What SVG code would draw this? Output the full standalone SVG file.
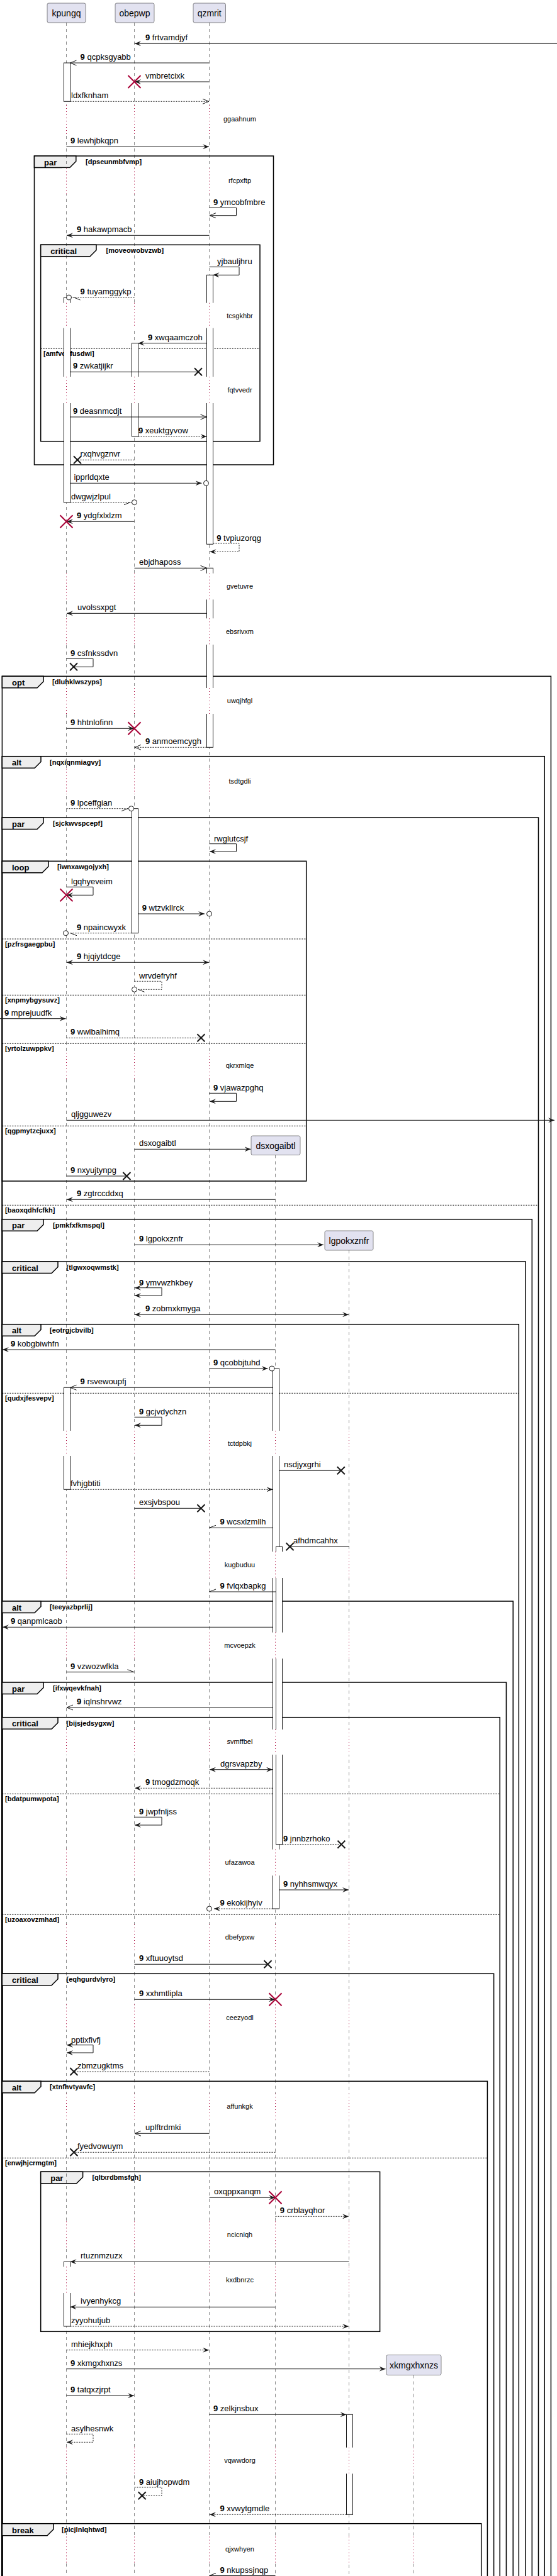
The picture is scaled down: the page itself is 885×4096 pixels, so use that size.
<svg xmlns="http://www.w3.org/2000/svg" xmlns:xlink="http://www.w3.org/1999/xlink" width="885" height="4096" viewBox="0 0 885 4096">
<defs>
<style>
.pb{fill:#E2E2F0;stroke:#181818;stroke-width:0.5}
.pn{font-family:'Liberation Sans',Arial,sans-serif;font-size:14px;fill:#000;text-anchor:middle}
.ll{stroke:#181818;stroke-width:0.5;stroke-dasharray:5,5;fill:none}
.dl{stroke:#A80036;stroke-width:1;stroke-dasharray:1,4;fill:none}
.cv{fill:#fff;stroke:none}
.act{fill:#fff;stroke:#181818;stroke-width:1}
.fr{fill:none;stroke:#000;stroke-width:1.5}
.tab{fill:#EEEEEE;stroke:#000;stroke-width:1.5}
.sep{stroke:#000;stroke-width:1;stroke-dasharray:2,2;fill:none}
.gt{font-family:'Liberation Sans',Arial,sans-serif;font-size:13px;font-weight:bold;fill:#000}
.gc{font-family:'Liberation Sans',Arial,sans-serif;font-size:11px;font-weight:bold;fill:#000}
.dt{font-family:'Liberation Sans',Arial,sans-serif;font-size:11px;fill:#000;text-anchor:middle}
.ml{font-family:'Liberation Sans',Arial,sans-serif;font-size:13px;fill:#000}
.b{font-weight:bold}
.s{stroke:#181818;stroke-width:1;fill:none}
.d{stroke:#181818;stroke-width:1;fill:none;stroke-dasharray:2,2}
.h{stroke:#181818;stroke-width:1;fill:none}
.ci{fill:#fff;stroke:#181818;stroke-width:1}
.xk{stroke:#181818;stroke-width:2;fill:none}
.xr{stroke:#A80036;stroke-width:2;fill:none}
</style>
<marker id="af" viewBox="0 0 10 8" refX="10" refY="4" markerWidth="10" markerHeight="8" markerUnits="userSpaceOnUse" orient="auto-start-reverse"><path d="M0,0L10,4L0,8L4,4Z" fill="#181818"/></marker>
<marker id="ao" viewBox="-1 -1 12 10" refX="10" refY="4" markerWidth="12" markerHeight="10" markerUnits="userSpaceOnUse" orient="auto-start-reverse"><path d="M0,0L10,4L0,8" fill="none" stroke="#181818" stroke-width="1"/></marker>
<path id="xb" class="xk" d="M-6,-6L6,6M6,-6L-6,6"/>
<path id="xd" class="xr" d="M-10,-10L10,10M10,-10L-10,10"/>
</defs>
<rect width="885" height="4096" fill="#fff"/>

<g id="frames">
<g id="f1"><rect class="fr" x="54.5" y="248" width="380" height="491"/><polygon class="tab" points="54.5,248 120.8,248 120.8,256.5 110.8,266.5 54.5,266.5"/><text class="gt" x="70" y="262.5">par</text><text class="gc" x="136" y="261">[dpseunmbfvmp]</text></g>
<g id="f2"><rect class="fr" x="64.7" y="389.3" width="348.3" height="312.4"/><polygon class="tab" points="64.7,389.3 153,389.3 153,397.8 143,407.8 64.7,407.8"/><text class="gt" x="80.2" y="403.8">critical</text><text class="gc" x="168.5" y="402.3">[moveowobvzwb]</text><line class="sep" x1="64.7" y1="554.3" x2="413" y2="554.3"/><text class="gc" x="69" y="565.8">[amfvcbfusdwi]</text></g>
<g id="f3"><rect class="fr" x="3.4" y="1075.3" width="872" height="3200"/><polygon class="tab" points="3.4,1075.3 69,1075.3 69,1083.8 59,1093.8 3.4,1093.8"/><text class="gt" x="19" y="1089.8">opt</text><text class="gc" x="83" y="1088.3">[dluhklwszyps]</text></g>
<g id="f4"><rect class="fr" x="3.4" y="1202.7" width="861.8" height="3100"/><polygon class="tab" points="3.4,1202.7 65,1202.7 65,1211.2 55,1221.2 3.4,1221.2"/><text class="gt" x="19" y="1217.2">alt</text><text class="gc" x="79" y="1215.7">[nqxiqnmiagvy]</text></g>
<g id="f5"><rect class="fr" x="3.4" y="1300" width="852.1" height="3000"/><polygon class="tab" points="3.4,1300 69,1300 69,1308.5 59,1318.5 3.4,1318.5"/><text class="gt" x="19" y="1314.5">par</text><text class="gc" x="84" y="1313">[sjckwvspcepf]</text><line class="sep" x1="3.4" y1="1916.3" x2="855.5" y2="1916.3"/><text class="gc" x="8" y="1927.8">[baoxqdhfcfkh]</text></g>
<g id="f6"><rect class="fr" x="3.4" y="1369.3" width="483.3" height="508.7"/><polygon class="tab" points="3.4,1369.3 77,1369.3 77,1377.8 67,1387.8 3.4,1387.8"/><text class="gt" x="19" y="1383.8">loop</text><text class="gc" x="91" y="1382.3">[iwnxawgojyxh]</text>
<line class="sep" x1="3.4" y1="1493" x2="486.7" y2="1493"/><text class="gc" x="8" y="1504.5">[pzfrsgaegpbu]</text>
<line class="sep" x1="3.4" y1="1582.3" x2="486.7" y2="1582.3"/><text class="gc" x="8" y="1593.8">[xnpmybgysuvz]</text>
<line class="sep" x1="3.4" y1="1659.3" x2="486.7" y2="1659.3"/><text class="gc" x="8" y="1670.8">[yrtolzuwppkv]</text>
<line class="sep" x1="3.4" y1="1790.3" x2="486.7" y2="1790.3"/><text class="gc" x="8" y="1801.8">[qgpmytzcjuxx]</text></g>
<g id="f7"><rect class="fr" x="3.4" y="1938.7" width="841.9" height="2300"/><polygon class="tab" points="3.4,1938.7 69,1938.7 69,1947.2 59,1957.2 3.4,1957.2"/><text class="gt" x="19" y="1953.2">par</text><text class="gc" x="84" y="1951.7">[pmkfxfkmspql]</text></g>
<g id="f8"><rect class="fr" x="3.4" y="2006" width="831.7" height="2200"/><polygon class="tab" points="3.4,2006 92,2006 92,2014.5 82,2024.5 3.4,2024.5"/><text class="gt" x="19" y="2020.5">critical</text><text class="gc" x="105.5" y="2019">[tlgwxoqwmstk]</text></g>
<g id="f9"><rect class="fr" x="3.4" y="2105.7" width="820.9" height="2100"/><polygon class="tab" points="3.4,2105.7 65,2105.7 65,2114.2 55,2124.2 3.4,2124.2"/><text class="gt" x="19" y="2120.2">alt</text><text class="gc" x="79" y="2118.7">[eotrgjcbvilb]</text><line class="sep" x1="3.4" y1="2215.3" x2="824.3" y2="2215.3"/><text class="gc" x="8" y="2226.8">[qudxjfesvepv]</text></g>
<g id="f10"><rect class="fr" x="3.4" y="2546" width="811.8" height="1700"/><polygon class="tab" points="3.4,2546 65,2546 65,2554.5 55,2564.5 3.4,2564.5"/><text class="gt" x="19" y="2560.5">alt</text><text class="gc" x="79" y="2559">[teeyazbprlij]</text></g>
<g id="f11"><rect class="fr" x="3.4" y="2675" width="801" height="1600"/><polygon class="tab" points="3.4,2675 69,2675 69,2683.5 59,2693.5 3.4,2693.5"/><text class="gt" x="19" y="2689.5">par</text><text class="gc" x="84" y="2688">[ifxwqevkfnah]</text></g>
<g id="f12"><rect class="fr" x="3.4" y="2730.7" width="790.8" height="1500"/><polygon class="tab" points="3.4,2730.7 92,2730.7 92,2739.2 82,2749.2 3.4,2749.2"/><text class="gt" x="19" y="2745.2">critical</text><text class="gc" x="105.5" y="2743.7">[bijsjedsygxw]</text>
<line class="sep" x1="3.4" y1="2852.3" x2="794.2" y2="2852.3"/><text class="gc" x="8" y="2863.8">[bdatpumwpota]</text>
<line class="sep" x1="3.4" y1="3044.3" x2="794.2" y2="3044.3"/><text class="gc" x="8" y="3055.8">[uzoaxovzmhad]</text></g>
<g id="f13"><rect class="fr" x="3.4" y="3138.3" width="781.2" height="1100"/><polygon class="tab" points="3.4,3138.3 92,3138.3 92,3146.8 82,3156.8 3.4,3156.8"/><text class="gt" x="19" y="3152.8">critical</text><text class="gc" x="105.5" y="3151.3">[eqhgurdvlyro]</text></g>
<g id="f14"><rect class="fr" x="3.4" y="3309.3" width="771" height="900"/><polygon class="tab" points="3.4,3309.3 65,3309.3 65,3317.8 55,3327.8 3.4,3327.8"/><text class="gt" x="19" y="3323.8">alt</text><text class="gc" x="79" y="3322.3">[xtnfhvtyavfc]</text><line class="sep" x1="3.4" y1="3431.3" x2="774.4" y2="3431.3"/><text class="gc" x="8" y="3442.8">[enwjhjcrmgtm]</text></g>
<g id="f15"><rect class="fr" x="64.7" y="3453.3" width="538.9" height="254"/><polygon class="tab" points="64.7,3453.3 131.6,3453.3 131.6,3461.8 121.6,3471.8 64.7,3471.8"/><text class="gt" x="80.2" y="3467.8">par</text><text class="gc" x="146.4" y="3466.3">[qltxrdbmsfgh]</text></g>
<g id="f16"><rect class="fr" x="3.4" y="4012.7" width="761.3" height="300"/><polygon class="tab" points="3.4,4012.7 85,4012.7 85,4021.7 75,4031.7 3.4,4031.7"/><text class="gt" x="19" y="4027.7">break</text><text class="gc" x="98" y="4026.2">[picjlnlqhtwd]</text></g>
</g>

<g id="lifelines">
<line class="ll" x1="105.5" y1="36" x2="105.5" y2="4096"/>
<line class="ll" x1="213.5" y1="36" x2="213.5" y2="4096"/>
<line class="ll" x1="332.5" y1="36" x2="332.5" y2="4096"/>
<line class="ll" x1="437.5" y1="1836.5" x2="437.5" y2="4096"/>
<line class="ll" x1="554.5" y1="1988" x2="554.5" y2="4096"/>
<line class="ll" x1="657.5" y1="3776.5" x2="657.5" y2="4096"/>
</g>

<g id="activations">
<rect class="act" x="101.5" y="100" width="10" height="61.3"/>
<rect class="act" x="101.5" y="473" width="10" height="326"/>
<rect class="act" x="101.5" y="2206.3" width="10" height="162"/>
<rect class="act" x="101.5" y="3596.3" width="10" height="102.7"/>
<rect class="act" x="209.5" y="545.7" width="10" height="148.3"/>
<rect class="act" x="209.5" y="1285.7" width="10" height="198"/>
<rect class="act" x="328.5" y="437.3" width="10" height="428"/>
<rect class="act" x="328.5" y="903.3" width="10" height="285"/>
<rect class="act" x="433.5" y="2176" width="10" height="859"/>
<rect class="act" x="438.5" y="2459.3" width="10" height="473.4"/>
<rect class="act" x="550.5" y="3839.3" width="10" height="159"/>
</g>

<g id="delays">
<g><rect class="cv" x="98.5" y="167" width="20" height="46"/><rect class="cv" x="206.5" y="167" width="20" height="46"/><rect class="cv" x="325.5" y="167" width="20" height="46"/><path class="dl" d="M105.5,167V213M213.5,167V213M332.5,167V213"/><text class="dt" x="381" y="193.2">ggaahnum</text></g>
<g><rect class="cv" x="98.5" y="267.5" width="20" height="41.5"/><rect class="cv" x="206.5" y="267.5" width="20" height="41.5"/><rect class="cv" x="325.5" y="267.5" width="20" height="41.5"/><path class="dl" d="M105.5,267.5V309M213.5,267.5V309M332.5,267.5V309"/><text class="dt" x="381" y="290.5">rfcpxftp</text></g>
<g><rect class="cv" x="98.5" y="481.7" width="20" height="40"/><rect class="cv" x="206.5" y="481.7" width="20" height="40"/><rect class="cv" x="325.5" y="481.7" width="20" height="40"/><path class="dl" d="M105.5,481.7V521.7M213.5,481.7V521.7M332.5,481.7V521.7"/><text class="dt" x="381" y="505.8">tcsgkhbr</text></g>
<g><rect class="cv" x="98.5" y="599" width="20" height="42"/><rect class="cv" x="206.5" y="599" width="20" height="42"/><rect class="cv" x="325.5" y="599" width="20" height="42"/><path class="dl" d="M105.5,599V641M213.5,599V641M332.5,599V641"/><text class="dt" x="381" y="623.5">fqtvvedr</text></g>
<g><rect class="cv" x="98.5" y="911.7" width="20" height="41.6"/><rect class="cv" x="206.5" y="911.7" width="20" height="41.6"/><rect class="cv" x="325.5" y="911.7" width="20" height="41.6"/><path class="dl" d="M105.5,911.7V953.3M213.5,911.7V953.3M332.5,911.7V953.3"/><text class="dt" x="381" y="935.8">gvetuvre</text></g>
<g><rect class="cv" x="98.5" y="983.3" width="20" height="41.7"/><rect class="cv" x="206.5" y="983.3" width="20" height="41.7"/><rect class="cv" x="325.5" y="983.3" width="20" height="41.7"/><path class="dl" d="M105.5,983.3V1025M213.5,983.3V1025M332.5,983.3V1025"/><text class="dt" x="381" y="1007.5">ebsrivxm</text></g>
<g><rect class="cv" x="98.5" y="1094" width="20" height="41"/><rect class="cv" x="206.5" y="1094" width="20" height="41"/><rect class="cv" x="325.5" y="1094" width="20" height="41"/><path class="dl" d="M105.5,1094V1135M213.5,1094V1135M332.5,1094V1135"/><text class="dt" x="381" y="1118.2">uwqjhfgl</text></g>
<g><rect class="cv" x="98.5" y="1222.5" width="20" height="40.5"/><rect class="cv" x="206.5" y="1222.5" width="20" height="40.5"/><rect class="cv" x="325.5" y="1222.5" width="20" height="40.5"/><path class="dl" d="M105.5,1222.5V1263M213.5,1222.5V1263M332.5,1222.5V1263"/><text class="dt" x="381" y="1245.8">tsdtgdli</text></g>
<g><rect class="cv" x="98.5" y="1674" width="20" height="42"/><rect class="cv" x="206.5" y="1674" width="20" height="42"/><rect class="cv" x="325.5" y="1674" width="20" height="42"/><path class="dl" d="M105.5,1674V1716M213.5,1674V1716M332.5,1674V1716"/><text class="dt" x="381" y="1697.8">qkrxmlqe</text></g>
<g><rect class="cv" x="98.5" y="2275" width="20" height="40"/><rect class="cv" x="206.5" y="2275" width="20" height="40"/><rect class="cv" x="325.5" y="2275" width="20" height="40"/><rect class="cv" x="430.5" y="2275" width="20" height="40"/><rect class="cv" x="547.5" y="2275" width="20" height="40"/><path class="dl" d="M105.5,2275V2315M213.5,2275V2315M332.5,2275V2315M437.5,2275V2315M554.5,2275V2315"/><text class="dt" x="381" y="2299.2">tctdpbkj</text></g>
<g><rect class="cv" x="98.5" y="2467.3" width="20" height="41.7"/><rect class="cv" x="206.5" y="2467.3" width="20" height="41.7"/><rect class="cv" x="325.5" y="2467.3" width="20" height="41.7"/><rect class="cv" x="430.5" y="2467.3" width="20" height="41.7"/><rect class="cv" x="547.5" y="2467.3" width="20" height="41.7"/><path class="dl" d="M105.5,2467.3V2509M213.5,2467.3V2509M332.5,2467.3V2509M437.5,2467.3V2509M554.5,2467.3V2509"/><text class="dt" x="381" y="2491.8">kugbuduu</text></g>
<g><rect class="cv" x="98.5" y="2595.7" width="20" height="41.6"/><rect class="cv" x="206.5" y="2595.7" width="20" height="41.6"/><rect class="cv" x="325.5" y="2595.7" width="20" height="41.6"/><rect class="cv" x="430.5" y="2595.7" width="20" height="41.6"/><rect class="cv" x="547.5" y="2595.7" width="20" height="41.6"/><path class="dl" d="M105.5,2595.7V2637.3M213.5,2595.7V2637.3M332.5,2595.7V2637.3M437.5,2595.7V2637.3M554.5,2595.7V2637.3"/><text class="dt" x="381" y="2620.2">mcvoepzk</text></g>
<g><rect class="cv" x="98.5" y="2750" width="20" height="40"/><rect class="cv" x="206.5" y="2750" width="20" height="40"/><rect class="cv" x="325.5" y="2750" width="20" height="40"/><rect class="cv" x="430.5" y="2750" width="20" height="40"/><rect class="cv" x="547.5" y="2750" width="20" height="40"/><path class="dl" d="M105.5,2750V2790M213.5,2750V2790M332.5,2750V2790M437.5,2750V2790M554.5,2750V2790"/><text class="dt" x="381" y="2773.2">svmffbel</text></g>
<g><rect class="cv" x="98.5" y="2940.7" width="20" height="41.6"/><rect class="cv" x="206.5" y="2940.7" width="20" height="41.6"/><rect class="cv" x="325.5" y="2940.7" width="20" height="41.6"/><rect class="cv" x="430.5" y="2940.7" width="20" height="41.6"/><rect class="cv" x="547.5" y="2940.7" width="20" height="41.6"/><path class="dl" d="M105.5,2940.7V2982.3M213.5,2940.7V2982.3M332.5,2940.7V2982.3M437.5,2940.7V2982.3M554.5,2940.7V2982.3"/><text class="dt" x="381" y="2965.2">ufazawoa</text></g>
<g><rect class="cv" x="98.5" y="3060" width="20" height="42"/><rect class="cv" x="206.5" y="3060" width="20" height="42"/><rect class="cv" x="325.5" y="3060" width="20" height="42"/><rect class="cv" x="430.5" y="3060" width="20" height="42"/><rect class="cv" x="547.5" y="3060" width="20" height="42"/><path class="dl" d="M105.5,3060V3102M213.5,3060V3102M332.5,3060V3102M437.5,3060V3102M554.5,3060V3102"/><text class="dt" x="381" y="3084.2">dbefypxw</text></g>
<g><rect class="cv" x="98.5" y="3187.3" width="20" height="40"/><rect class="cv" x="206.5" y="3187.3" width="20" height="40"/><rect class="cv" x="325.5" y="3187.3" width="20" height="40"/><rect class="cv" x="430.5" y="3187.3" width="20" height="40"/><rect class="cv" x="547.5" y="3187.3" width="20" height="40"/><path class="dl" d="M105.5,3187.3V3227.3M213.5,3187.3V3227.3M332.5,3187.3V3227.3M437.5,3187.3V3227.3M554.5,3187.3V3227.3"/><text class="dt" x="381" y="3211.8">ceezyodl</text></g>
<g><rect class="cv" x="98.5" y="3329" width="20" height="42.7"/><rect class="cv" x="206.5" y="3329" width="20" height="42.7"/><rect class="cv" x="325.5" y="3329" width="20" height="42.7"/><rect class="cv" x="430.5" y="3329" width="20" height="42.7"/><rect class="cv" x="547.5" y="3329" width="20" height="42.7"/><path class="dl" d="M105.5,3329V3371.7M213.5,3329V3371.7M332.5,3329V3371.7M437.5,3329V3371.7M554.5,3329V3371.7"/><text class="dt" x="381" y="3352.8">affunkgk</text></g>
<g><rect class="cv" x="98.5" y="3532.3" width="20" height="43.7"/><rect class="cv" x="206.5" y="3532.3" width="20" height="43.7"/><rect class="cv" x="325.5" y="3532.3" width="20" height="43.7"/><rect class="cv" x="430.5" y="3532.3" width="20" height="43.7"/><rect class="cv" x="547.5" y="3532.3" width="20" height="43.7"/><path class="dl" d="M105.5,3532.3V3576M213.5,3532.3V3576M332.5,3532.3V3576M437.5,3532.3V3576M554.5,3532.3V3576"/><text class="dt" x="381" y="3556.8">ncicniqh</text></g>
<g><rect class="cv" x="98.5" y="3604.3" width="20" height="41.7"/><rect class="cv" x="206.5" y="3604.3" width="20" height="41.7"/><rect class="cv" x="325.5" y="3604.3" width="20" height="41.7"/><rect class="cv" x="430.5" y="3604.3" width="20" height="41.7"/><rect class="cv" x="547.5" y="3604.3" width="20" height="41.7"/><path class="dl" d="M105.5,3604.3V3646M213.5,3604.3V3646M332.5,3604.3V3646M437.5,3604.3V3646M554.5,3604.3V3646"/><text class="dt" x="381" y="3628.5">kxdbnrzc</text></g>
<g><rect class="cv" x="98.5" y="3891.7" width="20" height="41.6"/><rect class="cv" x="206.5" y="3891.7" width="20" height="41.6"/><rect class="cv" x="325.5" y="3891.7" width="20" height="41.6"/><rect class="cv" x="430.5" y="3891.7" width="20" height="41.6"/><rect class="cv" x="547.5" y="3891.7" width="20" height="41.6"/><rect class="cv" x="650.5" y="3891.7" width="20" height="41.6"/><path class="dl" d="M105.5,3891.7V3933.3M213.5,3891.7V3933.3M332.5,3891.7V3933.3M437.5,3891.7V3933.3M554.5,3891.7V3933.3M657.5,3891.7V3933.3"/><text class="dt" x="381" y="3915.8">vqwwdorg</text></g>
<g><rect class="cv" x="98.5" y="4033.5" width="20" height="41.5"/><rect class="cv" x="206.5" y="4033.5" width="20" height="41.5"/><rect class="cv" x="325.5" y="4033.5" width="20" height="41.5"/><rect class="cv" x="430.5" y="4033.5" width="20" height="41.5"/><rect class="cv" x="547.5" y="4033.5" width="20" height="41.5"/><rect class="cv" x="650.5" y="4033.5" width="20" height="41.5"/><path class="dl" d="M105.5,4033.5V4075M213.5,4033.5V4075M332.5,4033.5V4075M437.5,4033.5V4075M554.5,4033.5V4075M657.5,4033.5V4075"/><text class="dt" x="381" y="4056.8">qjxwhyen</text></g>
</g>

<g id="kpungq"><rect class="pb" x="75" y="5" width="61" height="31" rx="2.5"/><text class="pn" x="105.5" y="26">kpungq</text></g>
<g id="obepwp"><rect class="pb" x="183" y="5" width="62" height="31" rx="2.5"/><text class="pn" x="214" y="26">obepwp</text></g>
<g id="qzmrit"><rect class="pb" x="307" y="5" width="51.5" height="31" rx="2.5"/><text class="pn" x="332.7" y="26">qzmrit</text></g>
<g id="dsxogaibtl"><rect class="pb" x="399" y="1806" width="78" height="30.5" rx="2.5"/><text class="pn" x="438" y="1826.5">dsxogaibtl</text></g>
<g id="lgpokxznfr"><rect class="pb" x="516" y="1957" width="77" height="31" rx="2.5"/><text class="pn" x="554.5" y="1977.5">lgpokxznfr</text></g>
<g id="xkmgxhxnzs"><rect class="pb" x="614" y="3744.5" width="87" height="32" rx="2.5"/><text class="pn" x="657.5" y="3765.5">xkmgxhxnzs</text></g>

<g id="connectors">
<g><line class="s" x1="885" y1="69.3" x2="214" y2="69.3" marker-end="url(#af)"/><text class="ml" x="231" y="64.3"><tspan class="b">9</tspan> frtvamdjyf</text></g>
<g><line class="s" x1="332.5" y1="100" x2="111.5" y2="100" marker-end="url(#ao)"/><text class="ml" x="127.6" y="95"><tspan class="b">9</tspan> qcpksgyabb</text></g>
<g><line class="s" x1="332.5" y1="130" x2="214" y2="130" marker-end="url(#af)"/><use href="#xd" x="213.5" y="130"/><text class="ml" x="231" y="125">vmbretcixk</text></g>
<g><line class="d" x1="111.5" y1="161.3" x2="332" y2="161.3" marker-end="url(#ao)"/><text class="ml" x="113" y="156.3">ldxfknham</text></g>
<g><line class="s" x1="105.5" y1="233.3" x2="332" y2="233.3" marker-end="url(#af)"/><text class="ml" x="112" y="228.3"><tspan class="b">9</tspan> lewhjbkqpn</text></g>
<g><path class="s" d="M332.5,330.3H375.5V342.7H333" marker-end="url(#ao)"/><text class="ml" x="339" y="326"><tspan class="b">9</tspan> ymcobfmbre</text></g>
<g><line class="s" x1="332.5" y1="374.3" x2="106" y2="374.3" marker-end="url(#af)"/><text class="ml" x="122" y="369.3"><tspan class="b">9</tspan> hakawpmacb</text></g>
<g><path class="s" d="M332.5,424.3H380V437.3H338.5" marker-end="url(#af)"/><text class="ml" x="345" y="420.3">yjbauljhru</text></g>
<g><line class="d" x1="213.5" y1="473" x2="113.5" y2="473"/><circle class="ci" cx="109.5" cy="473" r="4"/><path class="h" d="M117.5,473L127.5,477"/><text class="ml" x="127.6" y="468"><tspan class="b">9</tspan> tuyamggykp</text></g>
<g><line class="s" x1="328.5" y1="545.7" x2="219.5" y2="545.7" marker-end="url(#af)"/><text class="ml" x="235" y="540.7"><tspan class="b">9</tspan> xwqaamczoh</text></g>
<g><line class="s" x1="111.5" y1="591.3" x2="315" y2="591.3"/><use href="#xb" x="315" y="591.3"/><text class="ml" x="116" y="586.3"><tspan class="b">9</tspan> zwkatjijkr</text></g>
<g><line class="s" x1="111.5" y1="663" x2="328.5" y2="663" marker-end="url(#ao)"/><text class="ml" x="116" y="658"><tspan class="b">9</tspan> deasnmcdjt</text></g>
<g><line class="d" x1="219.5" y1="694" x2="328.5" y2="694" marker-end="url(#af)"/><text class="ml" x="220" y="689"><tspan class="b">9</tspan> xeuktgyvow</text></g>
<g><line class="d" x1="213.5" y1="731.3" x2="123" y2="731.3"/><use href="#xb" x="123" y="731.3"/><text class="ml" x="127.6" y="726.3">rxqhvgznvr</text></g>
<g><line class="s" x1="111.5" y1="768.3" x2="320.5" y2="768.3" marker-end="url(#af)"/><circle class="ci" cx="327.5" cy="768.3" r="4"/><text class="ml" x="117.4" y="763.3">ipprldqxte</text></g>
<g><line class="d" x1="111.5" y1="798.7" x2="209.5" y2="798.7"/><path class="h" d="M207,798.7L197,802.7"/><circle class="ci" cx="213.5" cy="798.7" r="4"/><text class="ml" x="113" y="793.7">dwgwjzlpul</text></g>
<g><line class="s" x1="213.5" y1="829.3" x2="106" y2="829.3" marker-end="url(#af)"/><use href="#xd" x="105.5" y="829.3"/><text class="ml" x="122" y="824.3"><tspan class="b">9</tspan> ydgfxlxlzm</text></g>
<g><path class="d" d="M338.5,864H380V877.3H333.5" marker-end="url(#af)"/><text class="ml" x="344.2" y="860"><tspan class="b">9</tspan> tvpiuzorqg</text></g>
<g><line class="s" x1="213.5" y1="903.3" x2="328.5" y2="903.3" marker-end="url(#ao)"/><text class="ml" x="221" y="898.3">ebjdhaposs</text></g>
<g><line class="s" x1="328.5" y1="975.3" x2="106" y2="975.3" marker-end="url(#af)"/><text class="ml" x="123" y="970.3">uvolssxpgt</text></g>
<g><path class="s" d="M105.5,1047.3H148V1060.3H117"/><use href="#xb" x="117" y="1060.3"/><text class="ml" x="112" y="1043.3"><tspan class="b">9</tspan> csfnkssdvn</text></g>
<g><line class="s" x1="105.5" y1="1158.3" x2="213" y2="1158.3" marker-end="url(#af)"/><use href="#xd" x="213.5" y="1158.3"/><text class="ml" x="112" y="1153.3"><tspan class="b">9</tspan> hhtnlofinn</text></g>
<g><line class="d" x1="328.5" y1="1188.3" x2="214" y2="1188.3" marker-end="url(#ao)"/><text class="ml" x="231" y="1183.3"><tspan class="b">9</tspan> anmoemcygh</text></g>
<g><line class="d" x1="105.5" y1="1285.7" x2="204.5" y2="1285.7"/><path class="h" d="M203,1285.7L193,1289.7"/><circle class="ci" cx="208.5" cy="1285.7" r="4"/><text class="ml" x="112" y="1280.7"><tspan class="b">9</tspan> lpceffgian</text></g>
<g><path class="s" d="M332.5,1341.7H375.5V1354H333" marker-end="url(#af)"/><text class="ml" x="340" y="1337.7">rwglutcsjf</text></g>
<g><path class="s" d="M105.5,1410.3H148V1423.3H106" marker-end="url(#af)"/><use href="#xd" x="105.5" y="1423.3"/><text class="ml" x="113" y="1406.3">lgqhyeveim</text></g>
<g><line class="s" x1="219.5" y1="1453" x2="325" y2="1453" marker-end="url(#af)"/><circle class="ci" cx="332.5" cy="1453" r="4"/><text class="ml" x="225.7" y="1448"><tspan class="b">9</tspan> wtzvkllrck</text></g>
<g><line class="d" x1="209.5" y1="1483.7" x2="108.5" y2="1483.7"/><circle class="ci" cx="104.5" cy="1483.7" r="4"/><path class="h" d="M112,1483.7L122,1487.7"/><text class="ml" x="122" y="1478.7"><tspan class="b">9</tspan> npaincwyxk</text></g>
<g><line class="s" x1="106" y1="1530.3" x2="332" y2="1530.3" marker-start="url(#af)" marker-end="url(#af)"/><text class="ml" x="122" y="1525.3"><tspan class="b">9</tspan> hjqiytdcge</text></g>
<g><path class="d" d="M213.5,1560.3H257V1573.3H217.5"/><circle class="ci" cx="213.5" cy="1573.3" r="4"/><path class="h" d="M219.5,1573.3L229.5,1577.3"/><text class="ml" x="221" y="1556.3">wrvdefryhf</text></g>
<g><line class="s" x1="0" y1="1619.7" x2="104.5" y2="1619.7" marker-end="url(#af)"/><text class="ml" x="7" y="1614.7"><tspan class="b">9</tspan> mprejuudfk</text></g>
<g><line class="d" x1="105.5" y1="1650.3" x2="319.4" y2="1650.3"/><use href="#xb" x="319.4" y="1650.3"/><text class="ml" x="112" y="1645.3"><tspan class="b">9</tspan> wwlbalhimq</text></g>
<g><path class="s" d="M332.5,1738.3H375.5V1751.3H333" marker-end="url(#af)"/><text class="ml" x="339" y="1734.3"><tspan class="b">9</tspan> vjawazpghq</text></g>
<g><line class="s" x1="105.5" y1="1781.3" x2="881" y2="1781.3" marker-end="url(#af)"/><text class="ml" x="113" y="1776.3">qljgguwezv</text></g>
<g><line class="s" x1="213.5" y1="1827.3" x2="398.5" y2="1827.3" marker-end="url(#af)"/><text class="ml" x="221" y="1822.3">dsxogaibtl</text></g>
<g><line class="s" x1="105.5" y1="1870" x2="201.4" y2="1870"/><use href="#xb" x="201.4" y="1870"/><text class="ml" x="112" y="1865"><tspan class="b">9</tspan> nxyujtynpg</text></g>
<g><line class="s" x1="437.5" y1="1907.3" x2="106" y2="1907.3" marker-end="url(#af)"/><text class="ml" x="122" y="1902.3"><tspan class="b">9</tspan> zgtrccddxq</text></g>
<g><line class="s" x1="213.5" y1="1979.3" x2="514" y2="1979.3" marker-end="url(#af)"/><text class="ml" x="221" y="1974.3"><tspan class="b">9</tspan> lgpokxznfr</text></g>
<g><path class="s" d="M214,2047.7H257V2060H214" marker-start="url(#af)" marker-end="url(#af)"/><text class="ml" x="221" y="2043.7"><tspan class="b">9</tspan> ymvwzhkbey</text></g>
<g><line class="s" x1="214" y1="2090.3" x2="554" y2="2090.3" marker-start="url(#af)" marker-end="url(#af)"/><text class="ml" x="231" y="2085.3"><tspan class="b">9</tspan> zobmxkmyga</text></g>
<g><line class="s" x1="437.5" y1="2146" x2="4" y2="2146" marker-end="url(#af)"/><text class="ml" x="17" y="2141"><tspan class="b">9</tspan> kobgbiwhfn</text></g>
<g><line class="s" x1="332.5" y1="2176" x2="425.5" y2="2176" marker-end="url(#af)"/><circle class="ci" cx="432" cy="2176" r="4"/><text class="ml" x="339" y="2171"><tspan class="b">9</tspan> qcobbjtuhd</text></g>
<g><line class="s" x1="433.5" y1="2206.3" x2="111.5" y2="2206.3" marker-end="url(#ao)"/><text class="ml" x="127.6" y="2201.3"><tspan class="b">9</tspan> rsvewoupfj</text></g>
<g><path class="s" d="M213.5,2253.3H257V2266.3H214" marker-end="url(#af)"/><text class="ml" x="221" y="2249.3"><tspan class="b">9</tspan> gcjvdychzn</text></g>
<g><line class="s" x1="443.5" y1="2338.3" x2="541.8" y2="2338.3"/><use href="#xb" x="541.8" y="2338.3"/><text class="ml" x="451" y="2333.3">nsdjyxgrhi</text></g>
<g><line class="d" x1="111.5" y1="2368.3" x2="433.5" y2="2368.3" marker-end="url(#af)"/><text class="ml" x="112" y="2363.3">fvhjgbtiti</text></g>
<g><line class="s" x1="213.5" y1="2398.3" x2="319.4" y2="2398.3"/><use href="#xb" x="319.4" y="2398.3"/><text class="ml" x="221" y="2393.3">exsjvbspou</text></g>
<g><line class="s" x1="433.5" y1="2429.3" x2="332.5" y2="2429.3"/><path class="h" d="M332.5,2429.3L343,2425.3"/><text class="ml" x="349.5" y="2424.3"><tspan class="b">9</tspan> wcsxlzmllh</text></g>
<g><line class="s" x1="554.5" y1="2459.3" x2="460.6" y2="2459.3"/><use href="#xb" x="460.6" y="2459.3"/><text class="ml" x="466" y="2454.3">afhdmcahhx</text></g>
<g><line class="s" x1="438.5" y1="2531" x2="332.5" y2="2531"/><path class="h" d="M332.5,2531L343,2527"/><text class="ml" x="349.5" y="2526"><tspan class="b">9</tspan> fvlqxbapkg</text></g>
<g><line class="s" x1="433.5" y1="2587.3" x2="4" y2="2587.3" marker-end="url(#af)"/><text class="ml" x="17" y="2582.3"><tspan class="b">9</tspan> qanpmlcaob</text></g>
<g><line class="s" x1="105.5" y1="2658.7" x2="213" y2="2658.7"/><path class="h" d="M213,2658.7L202.5,2654.7"/><text class="ml" x="112" y="2653.7"><tspan class="b">9</tspan> vzwozwfkla</text></g>
<g><line class="s" x1="433.5" y1="2715" x2="106" y2="2715" marker-end="url(#ao)"/><text class="ml" x="122" y="2710"><tspan class="b">9</tspan> iqlnshrvwz</text></g>
<g><line class="s" x1="333" y1="2813.7" x2="433" y2="2813.7" marker-start="url(#af)" marker-end="url(#af)"/><text class="ml" x="350" y="2808.7">dgrsvapzby</text></g>
<g><line class="d" x1="433.5" y1="2843.3" x2="214" y2="2843.3" marker-end="url(#af)"/><text class="ml" x="231" y="2838.3"><tspan class="b">9</tspan> tmogdzmoqk</text></g>
<g><path class="s" d="M213.5,2889.3H257V2902H214" marker-end="url(#af)"/><text class="ml" x="221" y="2885.3"><tspan class="b">9</tspan> jwpfnljss</text></g>
<g><line class="d" x1="448.5" y1="2932.7" x2="542.4" y2="2932.7"/><use href="#xb" x="542.4" y="2932.7"/><text class="ml" x="450" y="2927.7"><tspan class="b">9</tspan> jnnbzrhoko</text></g>
<g><line class="s" x1="443.5" y1="3005" x2="554" y2="3005" marker-end="url(#af)"/><text class="ml" x="450" y="3000"><tspan class="b">9</tspan> nyhhsmwqyx</text></g>
<g><line class="d" x1="433.5" y1="3035" x2="340" y2="3035" marker-end="url(#af)"/><circle class="ci" cx="332.5" cy="3035" r="4"/><text class="ml" x="349.5" y="3030"><tspan class="b">9</tspan> ekokijhyiv</text></g>
<g><line class="s" x1="213.5" y1="3123.3" x2="425.5" y2="3123.3"/><use href="#xb" x="425.5" y="3123.3"/><text class="ml" x="221" y="3118.3"><tspan class="b">9</tspan> xftuuoytsd</text></g>
<g><line class="s" x1="213.5" y1="3179.3" x2="437" y2="3179.3" marker-end="url(#af)"/><use href="#xd" x="437.5" y="3179.3"/><text class="ml" x="221" y="3174.3"><tspan class="b">9</tspan> xxhmtlipla</text></g>
<g><path class="s" d="M106,3251.7H148V3264H106" marker-start="url(#af)" marker-end="url(#af)"/><text class="ml" x="113" y="3247.7">pptixfivfj</text></g>
<g><line class="d" x1="332.5" y1="3294" x2="117.4" y2="3294"/><use href="#xb" x="117.4" y="3294"/><text class="ml" x="123" y="3289">zbmzugktms</text></g>
<g><line class="s" x1="332.5" y1="3392.3" x2="214" y2="3392.3" marker-end="url(#ao)"/><text class="ml" x="231" y="3387.3">uplftrdmki</text></g>
<g><line class="d" x1="437.5" y1="3422.3" x2="117.4" y2="3422.3"/><use href="#xb" x="117.4" y="3422.3"/><text class="ml" x="123" y="3417.3">fyedvowuym</text></g>
<g><line class="s" x1="332.5" y1="3494.3" x2="437" y2="3494.3" marker-end="url(#af)"/><use href="#xd" x="437.5" y="3494.3"/><text class="ml" x="340" y="3489.3">oxqppxanqm</text></g>
<g><line class="d" x1="437.5" y1="3524.3" x2="554" y2="3524.3" marker-end="url(#af)"/><text class="ml" x="444.8" y="3519.3"><tspan class="b">9</tspan> crblayqhor</text></g>
<g><line class="s" x1="554.5" y1="3596.3" x2="111.5" y2="3596.3" marker-end="url(#af)"/><text class="ml" x="128" y="3591.3">rtuznmzuzx</text></g>
<g><line class="s" x1="437.5" y1="3668.3" x2="111.5" y2="3668.3" marker-end="url(#af)"/><text class="ml" x="128" y="3663.3">ivyenhykcg</text></g>
<g><line class="d" x1="111.5" y1="3699" x2="554" y2="3699" marker-end="url(#af)"/><text class="ml" x="113" y="3694">zyyohutjub</text></g>
<g><line class="d" x1="105.5" y1="3736.7" x2="332" y2="3736.7" marker-end="url(#af)"/><text class="ml" x="113" y="3731.7">mhiejkhxph</text></g>
<g><line class="s" x1="105.5" y1="3766.7" x2="612.5" y2="3766.7" marker-end="url(#af)"/><text class="ml" x="112" y="3761.7"><tspan class="b">9</tspan> xkmgxhxnzs</text></g>
<g><line class="s" x1="105.5" y1="3809.3" x2="213" y2="3809.3" marker-end="url(#af)"/><text class="ml" x="112" y="3804.3"><tspan class="b">9</tspan> tatqxzjrpt</text></g>
<g><line class="s" x1="332.5" y1="3839.3" x2="550.5" y2="3839.3" marker-end="url(#af)"/><text class="ml" x="339" y="3834.3"><tspan class="b">9</tspan> zelkjnsbux</text></g>
<g><path class="d" d="M105.5,3870.3H148V3883.3H106" marker-end="url(#af)"/><text class="ml" x="113" y="3866.3">asylhesnwk</text></g>
<g><path class="d" d="M213.5,3955H257V3968.3H225.7"/><use href="#xb" x="225.7" y="3968.3"/><text class="ml" x="221" y="3951"><tspan class="b">9</tspan> aiujhopwdm</text></g>
<g><line class="d" x1="550.5" y1="3998.3" x2="333" y2="3998.3" marker-end="url(#af)"/><text class="ml" x="349.5" y="3993.3"><tspan class="b">9</tspan> xvwytgmdle</text></g>
<g><line class="s" x1="437.5" y1="4095.5" x2="332.5" y2="4095.5"/><path class="h" d="M332.5,4095.5L343,4091.5"/><text class="ml" x="349.5" y="4090.5"><tspan class="b">9</tspan> nkupssjnqp</text></g>
</g>
</svg>
